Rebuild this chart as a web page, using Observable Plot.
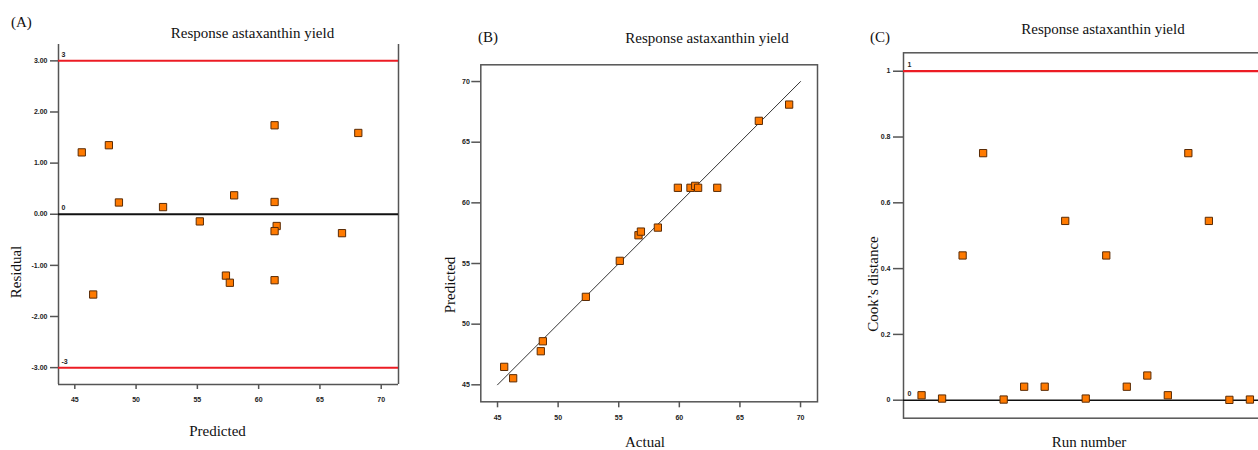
<!DOCTYPE html>
<html>
<head>
<meta charset="utf-8">
<script src="https://cdn.jsdelivr.net/npm/d3@7"></script>
<script src="https://cdn.jsdelivr.net/npm/@observablehq/plot@0.6"></script>
<style>
  html, body { margin: 0; padding: 0; background: #fff; overflow: hidden; }
  #root { position: relative; width: 1258px; height: 450px; overflow: hidden; }
  .panel { position: absolute; top: 0; }
  .panel svg { max-width: none !important; }
  .lbl { position: absolute; font-family: "Liberation Serif", "Times New Roman", serif; white-space: nowrap; color: #111; }
</style>
</head>
<body>
<div id="root"></div>
<script>
// ---------- Data ----------
// Panel A: residuals vs predicted
const residPredicted = [45.57, 47.78, 48.6, 52.2, 55.2, 58.0, 61.3, 61.3, 61.47, 61.3, 66.8, 68.13, 46.5, 57.33, 57.65, 61.3];
const residValues    = [1.21, 1.35, 0.23, 0.14, -0.14, 0.37, 1.74, 0.24, -0.23, -0.33, -0.37, 1.59, -1.57, -1.20, -1.34, -1.29];
const residTicks = [-3, -2, -1, 0, 1, 2, 3];
const residLimits = [3, -3];
const predTicks = [45, 50, 55, 60, 65, 70];

// Panel B: predicted vs actual
const actualValues = [45.55, 46.29, 48.57, 48.74, 52.29, 55.09, 56.63, 56.83, 58.23, 59.88, 60.92, 61.31, 61.55, 63.13, 66.56, 69.06];
const predictedValues = [46.48, 45.54, 47.77, 48.59, 52.25, 55.22, 57.33, 57.63, 57.96, 61.24, 61.24, 61.40, 61.24, 61.24, 66.76, 68.10];
const diagLine = [45, 70];
const actualTicks = [45, 50, 55, 60, 65, 70];

// Panel C: Cook's distance by run
const runNumbers = [1, 2, 3, 4, 5, 6, 7, 8, 9, 10, 11, 12, 13, 14, 15, 16, 17];
const cooksValues = [0.015, 0.005, 0.44, 0.751, 0.002, 0.041, 0.041, 0.545, 0.005, 0.44, 0.041, 0.075, 0.015, 0.751, 0.545, 0.001, 0.002];
const cooksLimit = 1;
const cooksTicks = [0, 0.2, 0.4, 0.6, 0.8, 1];

const title = "Response astaxanthin yield";

// ---------- Styles ----------
const orange = "#ff7a00";
const markerStroke = "#5b2c06";
const red = "#ec1c24";
const frameColor = "#555";
const tickFont = { fontFamily: "Liberation Sans, Arial, sans-serif", fontWeight: "bold", fontSize: 7, fill: "#222" };

const root = document.getElementById("root");

function place(svg, left) {
  const d = document.createElement("div");
  d.className = "panel";
  d.style.left = left + "px";
  d.appendChild(svg);
  root.appendChild(d);
}

// text label: x is center (or left if anchor="left"), baseline y
function label(text, x, baseline, size, anchor) {
  const d = document.createElement("div");
  d.className = "lbl";
  d.textContent = text;
  d.style.fontSize = size + "px";
  d.style.lineHeight = size + "px";
  d.style.top = (baseline - 0.8375 * size) + "px";
  d.style.left = x + "px";
  if (anchor !== "left") d.style.transform = "translateX(-50%)";
  root.appendChild(d);
}
function vlabel(text, cx, cy, size) {
  const d = document.createElement("div");
  d.className = "lbl";
  d.textContent = text;
  d.style.fontSize = size + "px";
  d.style.lineHeight = size + "px";
  d.style.left = cx + "px";
  d.style.top = cy + "px";
  d.style.transform = "translate(-50%, -50%) rotate(-90deg)";
  root.appendChild(d);
}

// ---------- Panel A ----------
const aData = residPredicted.map((p, i) => ({ p, r: residValues[i] }));
const aX = [43.67, 71.41], aY = [-3.33, 3.32];
const plotA = Plot.plot({
  width: 420, height: 450,
  marginLeft: 58, marginRight: 22, marginTop: 44, marginBottom: 66,
  x: { domain: aX },
  y: { domain: aY },
  style: { background: "transparent", overflow: "visible", maxWidth: "none" },
  marks: [
    Plot.ruleX(aX, { stroke: frameColor, strokeWidth: 1.5 }),
    Plot.ruleY([aY[0]], { stroke: frameColor, strokeWidth: 1.5 }),
    Plot.ruleY(residLimits, { stroke: red, strokeWidth: 2 }),
    Plot.ruleY([0], { stroke: "#111", strokeWidth: 2 }),
    Plot.text([...residLimits, 0], { x: aX[0], y: d => d, text: d => String(d), textAnchor: "start", dx: 3, dy: -6, ...tickFont, fontSize: 7 }),
    Plot.axisY(residTicks, { tickFormat: d => d.toFixed(2), tickSize: 8, tickPadding: 3, stroke: frameColor, strokeWidth: 1.5, ...tickFont, label: null }),
    Plot.axisX(predTicks, { tickSize: 5, tickPadding: 8, stroke: frameColor, strokeWidth: 1.5, ...tickFont, label: null }),
    Plot.dot(aData, { x: "p", y: "r", symbol: "square", r: 4.1, fill: orange, stroke: markerStroke, strokeWidth: 1 })
  ]
});
place(plotA, 0);

// ---------- Panel B ----------
const bData = actualValues.map((a, i) => ({ a, p: predictedValues[i] }));
const bX = [43.62, 71.4], bY = [43.6, 71.38];
const plotB = Plot.plot({
  width: 420, height: 450,
  marginLeft: 60.3, marginRight: 23, marginTop: 64.3, marginBottom: 48.7,
  x: { domain: bX },
  y: { domain: bY },
  style: { background: "transparent", overflow: "visible", maxWidth: "none" },
  marks: [
    Plot.frame({ stroke: frameColor, strokeWidth: 1.5 }),
    Plot.line(diagLine.map(v => ({ v })), { x: "v", y: "v", stroke: "#333", strokeWidth: 1 }),
    Plot.axisY(actualTicks, { tickSize: 9, tickPadding: 2, stroke: frameColor, strokeWidth: 1.5, ...tickFont, label: null }),
    Plot.axisX(actualTicks, { tickSize: 6, tickPadding: 7, stroke: frameColor, strokeWidth: 1.5, ...tickFont, label: null }),
    Plot.dot(bData, { x: "a", y: "p", symbol: "square", r: 4.1, fill: orange, stroke: markerStroke, strokeWidth: 1 })
  ]
});
place(plotB, 420);

// ---------- Panel C ----------
const cData = runNumbers.map((n, i) => ({ n, c: cooksValues[i] }));
const cX = [0.12, 18.88], cY = [-0.0547, 1.056];
const plotC = Plot.plot({
  width: 460, height: 450,
  marginLeft: 63, marginRight: 12, marginTop: 52.3, marginBottom: 32.3,
  x: { domain: cX, axis: null },
  y: { domain: cY },
  style: { background: "transparent", overflow: "visible", maxWidth: "none" },
  marks: [
    Plot.frame({ stroke: frameColor, strokeWidth: 1.5 }),
    Plot.ruleY([cooksLimit], { stroke: red, strokeWidth: 2.2 }),
    Plot.ruleY([0], { stroke: "#111", strokeWidth: 1.6 }),
    Plot.text([cooksLimit, 0], { x: cX[0], y: d => d, text: d => String(d), textAnchor: "start", dx: 4, dy: -6, ...tickFont, fontSize: 7 }),
    Plot.axisY(cooksTicks, { tickFormat: d => String(d), tickSize: 10, tickPadding: 3, stroke: frameColor, strokeWidth: 1.5, ...tickFont, label: null }),
    Plot.dot(cData, { x: "n", y: "c", symbol: "square", r: 4.1, fill: orange, stroke: markerStroke, strokeWidth: 1 })
  ]
});
place(plotC, 840);

// ---------- Text labels ----------
label("(A)", 11, 27.7, 15, "left");
label(title, 252.5, 38.5, 15);
label("Predicted", 217.5, 437, 15);
vlabel("Residual", 15.5, 272, 15);

label("(B)", 478, 42.5, 15, "left");
label(title, 707, 44, 15);
label("Actual", 645, 448, 15);
vlabel("Predicted", 450, 285, 15);

label("(C)", 870, 42.5, 15, "left");
label(title, 1103, 35, 15);
label("Run number", 1089, 448, 15);
vlabel("Cook\u2019s distance", 873, 284, 15);
</script>
</body>
</html>
